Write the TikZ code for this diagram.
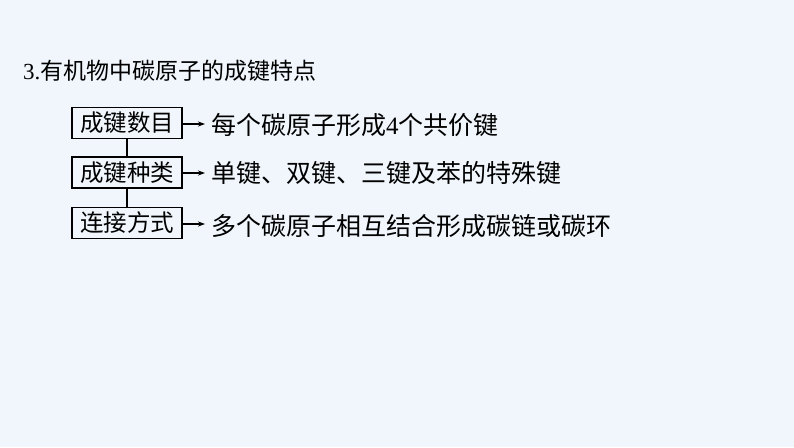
\documentclass[tikz,border=0pt]{standalone}
\usepackage{fontspec}
\setmainfont{Liberation Serif}
\newfontfamily\cjk{Noto Sans CJK SC}
\usetikzlibrary{arrows.meta}
\definecolor{bgc}{RGB}{240,246,252}
\tikzset{
  kbox/.style={draw, line width=1.3pt, minimum width=110pt, minimum height=31pt, inner sep=0pt, font=\fontsize{23.5}{23.5}\selectfont\cjk},
  rtext/.style={anchor=west, inner sep=0pt, font=\fontsize{25}{25}\selectfont},
  conn/.style={line width=1.1pt},
  arr/.style={line width=1.1pt, -{Stealth[length=7pt,width=5pt]}}
}
\begin{document}
\begin{tikzpicture}[x=1pt,y=-1pt]
\fill[bgc] (0,0) rectangle (794,447);
\useasboundingbox (0,0) rectangle (794,447);
\node[anchor=west, inner sep=0pt, font=\fontsize{23}{23}\selectfont] (title) at (23,71) {3.{\cjk 有机物中碳原子的成键特点}};
\node[kbox] (b1) at (127,123) {成键数目};
\node[kbox] (b2) at (127,172.5) {成键种类};
\node[kbox] (b3) at (127,223) {连接方式};
\draw[conn] (b1.south) -- (b2.north);
\draw[conn] (b2.south) -- (b3.north);
\coordinate (a1) at (205,124);
\coordinate (a2) at (205,173);
\coordinate (a3) at (205,224);
\draw[arr] (b1.east|-a1) -- (a1);
\draw[arr] (b2.east|-a2) -- (a2);
\draw[arr] (b3.east|-a3) -- (a3);
\node[rtext] (t1) at (211,125) {{\cjk 每个碳原子形成}4{\cjk 个共价键}};
\node[rtext] (t2) at (211,173.5) {\cjk 单键、双键、三键及苯的特殊键};
\node[rtext] (t3) at (211,226) {\cjk 多个碳原子相互结合形成碳链或碳环};
\end{tikzpicture}
\end{document}
